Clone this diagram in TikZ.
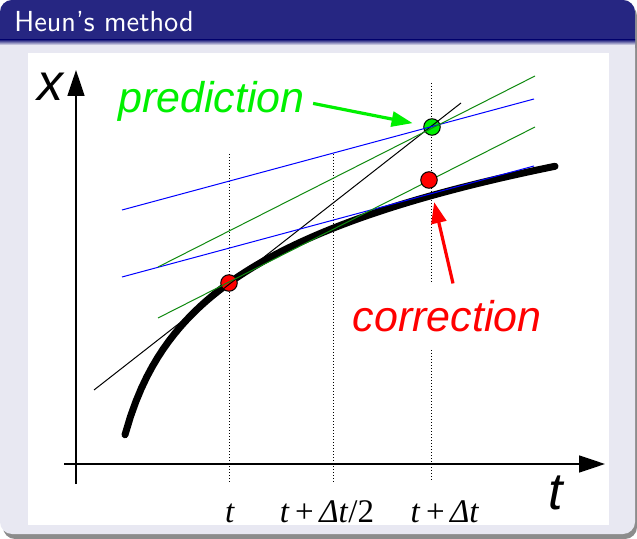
\documentclass[tikz,border=0pt]{standalone}
\usepackage{fontspec}
\usepackage{xcolor}
\usepackage{tikz}
\usetikzlibrary{arrows.meta}
\newfontfamily\plotfont{Liberation Sans}
\newfontfamily\tickfont{Liberation Serif}
\definecolor{titleblue}{HTML}{262682}
\definecolor{bodygray}{HTML}{E8E8F2}
\definecolor{shadowgray}{HTML}{8C8C8C}
\definecolor{predgreen}{HTML}{00F000}
\definecolor{tangreen}{HTML}{108A10}
\definecolor{tanblue}{HTML}{0000FF}
\tikzset{
  axis/.style={line width=0.8pt, -{Triangle[length=13pt,width=8.5pt]}},
  guide/.style={line width=0.5pt, dash pattern=on 0.5pt off 1pt},
  tangent/.style={line width=0.5pt, draw=#1},
  solution/.style={line width=3.5pt, line cap=round},
  dot/.style={circle, draw=black, line width=0.5pt, fill=#1, minimum size=8.25pt, inner sep=0pt},
  callout/.style={line width=1.6pt, draw=#1, -{Triangle[length=10.5pt,width=7.5pt]}},
  lbl/.style={font=\plotfont\itshape\fontsize{21.5}{24}\selectfont, text=#1, inner sep=0pt},
  axlbl/.style={font=\plotfont\itshape\fontsize{26}{28}\selectfont, inner sep=0pt},
  ticklbl/.style={font=\tickfont\fontsize{16.5}{18}\selectfont, anchor=base, inner sep=0pt}
}
\begin{document}
\begin{tikzpicture}[x=0.5pt, y=-0.5pt]
  \useasboundingbox (0,0) rectangle (637,539);
  \fill[shadowgray, rounded corners=6pt] (3,4) rectangle (637,539);
  \fill[bodygray, rounded corners=6pt] (0,0) rectangle (635,534);
  \fill[titleblue, rounded corners=6pt] (0,0) rectangle (635,60);
  \fill[bodygray] (0,45) rectangle (635,60);
  \shade[top color=titleblue, bottom color=bodygray] (0,40) rectangle (635,45);
  \fill[white] (28,53) rectangle (609,525);
  \node[anchor=base west, text=white, inner sep=0pt, font=\sffamily\fontsize{14.5}{16}\selectfont] (title) at (14,32) {Heun’s method};

  \draw[guide] (229,154) -- (229,482);
  \draw[guide] (333,154) -- (333,482);
  \draw[guide] (431,83) -- (431,482);
  \draw[axis] (76,484) -- (76,70);
  \draw[axis] (64,464) -- (605,464);
  \node[axlbl] (xlbl) at (51,87) {x};
  \node[axlbl] (tlbl) at (556,493) {t};

  \draw[solution] plot[domain=125:555, samples=80] (\x, {283-92.6*ln((\x-100)/129)});
  \node[dot=red] (tdot) at (229,283) {};
  \node[dot=predgreen] (pdot) at (432,127) {};
  \draw[tangent=black] (94,390) -- (461,103);
  \draw[tangent=tanblue] (122,210) -- (534,99);
  \draw[tangent=tanblue] (122,277) -- (534,166);
  \draw[tangent=tangreen] (158,267) -- (535,76);
  \draw[tangent=tangreen] (158,318) -- (535,127);
  \node[dot=red] (cdot) at (429,180) {};

  \node[lbl=predgreen, anchor=base west] (pred) at (118,113) {prediction};
  \node[lbl=red, anchor=base, fill=white, inner ysep=8.5pt, inner xsep=2pt] (corr) at (447,332) {correction};
  \draw[callout=predgreen, shorten <=4pt, shorten >=5.5pt] (pred.east) -- (pdot);
  \draw[callout=red, shorten >=7pt] ([xshift=3pt]corr.north) -- (cdot);

  \node[ticklbl] (t0) at (230,522) {\textit{t}};
  \node[ticklbl] (t1) at (327,522) {\textit{t}\,+\,\textit{Δt}/2};
  \node[ticklbl] (t2) at (445,522) {\textit{t}\,+\,\textit{Δt}};
\end{tikzpicture}
\end{document}
